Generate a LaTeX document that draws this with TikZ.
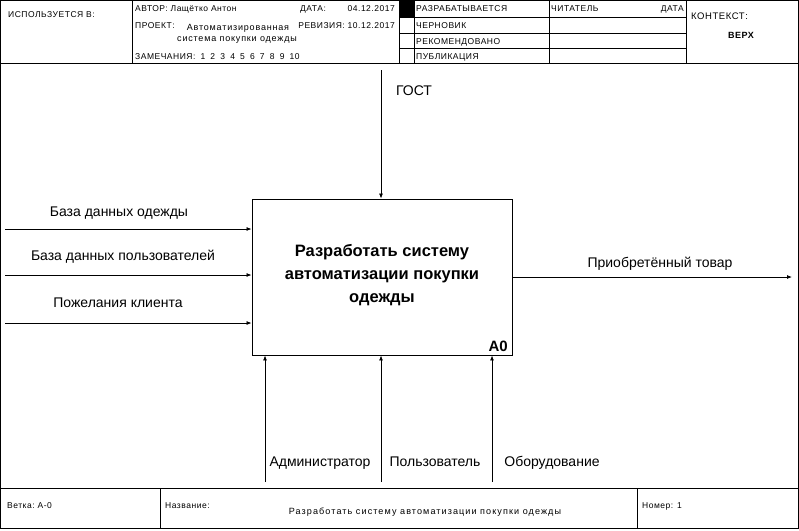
\documentclass[tikz,border=0pt]{standalone}
\usepackage{fontspec}
\setmainfont{Liberation Sans}
\newfontfamily\hdrfamily[LetterSpace=6]{Liberation Sans}
\newfontfamily\hdrlowfamily[LetterSpace=9]{Liberation Sans}
\newfontfamily\ttlfamily[LetterSpace=12]{Liberation Sans}
\usetikzlibrary{positioning,arrows.meta}
\newcommand{\hdrsize}{\hdrfamily\fontsize{8.5}{10}\selectfont}
\newcommand{\hdrlowsize}{\hdrlowfamily\fontsize{9}{10}\selectfont}
\newcommand{\lblsize}{\fontsize{14}{16}\selectfont}
\newcommand{\numgap}{\ \hspace{2.3pt}}

\begin{document}
\begin{tikzpicture}[
		x=1pt, y=-1pt,
		frame/.style={draw, line width=0.8pt},
		hdr/.style={inner sep=0pt, anchor=base west, font=\hdrsize},
		hdrr/.style={inner sep=0pt, anchor=base east, font=\hdrsize},
		hdrc/.style={inner sep=0pt, anchor=base, font=\hdrlowsize},
		lbl/.style={inner sep=0pt, anchor=base, font=\lblsize},
		funcbox/.style={draw, line width=0.9pt, minimum width=260pt, minimum height=156pt, inner sep=0pt},
		boxtext/.style={inner sep=0pt, align=center, font=\bfseries\fontsize{16.5}{23}\selectfont},
		arr/.style={-{Latex[length=5pt,width=4pt]}, line width=0.8pt},
	]

	\useasboundingbox (0,0) rectangle (799,530);

	% frame, header and footer grid
	\draw[frame] (0.5,0.5) rectangle (798.5,528.5);
	\draw[frame] (0,63) -- (799,63);
	\draw[frame] (0,488) -- (799,488);
	\draw[frame] (132,0) -- (132,63);
	\draw[frame] (399,0) -- (399,63);
	\draw[frame] (414,0) -- (414,63);
	\draw[frame] (549,0) -- (549,63);
	\draw[frame] (686,0) -- (686,63);
	\foreach \y in {17,33,48}
		\draw[frame] (399,\y) -- (686,\y);
	\fill (399,0) rectangle (414,17);
	\draw[frame] (160,488) -- (160,529);
	\draw[frame] (637,488) -- (637,529);

	% header texts
	\node[hdr] (usedin) at (8,17) {ИСПОЛЬЗУЕТСЯ В:};
	\node[hdr] (author) at (135,12) {АВТОР: Лащётко Антон};
	\node[hdr] (datelbl) at (300,12) {ДАТА:};
	\node[hdrr] (date) at (395,12) {04.12.2017};
	\node[hdr] (project) at (135,28) {ПРОЕКТ:};
	\node[hdrc] (proj1) at (238,30) {Автоматизированная};
	\node[hdrc] (proj2) at (237,41) {система покупки одежды};
	\node[hdrr] (revision) at (395,28) {РЕВИЗИЯ: 10.12.2017};
	\node[hdr] (notes) at (135,59) {ЗАМЕЧАНИЯ:\numgap 1\numgap 2\numgap 3\numgap 4\numgap 5\numgap 6\numgap 7\numgap 8\numgap 9\numgap 10};
	\node[hdr] (working) at (416,12) {РАЗРАБАТЫВАЕТСЯ};
	\node[hdr] (draft) at (416,28) {ЧЕРНОВИК};
	\node[hdr] (recommended) at (416,44) {РЕКОМЕНДОВАНО};
	\node[hdr] (publication) at (416,59) {ПУБЛИКАЦИЯ};
	\node[hdr] (reader) at (551,12) {ЧИТАТЕЛЬ};
	\node[hdrr] (readerdate) at (684,12) {ДАТА};
	\node[hdr, font=\hdrfamily\fontsize{9.5}{11}\selectfont] (context) at (691,19) {КОНТЕКСТ:};
	\node[hdrc, font=\hdrfamily\bfseries\fontsize{9}{11}\selectfont] (top) at (741,38) {ВЕРХ};

	% footer texts
	\node[hdr] (node) at (7,508) {Ветка:\ А-0};
	\node[hdr] (title) at (165,508) {Название:};
	\node[hdrc, font=\ttlfamily\fontsize{9.05}{11}\selectfont] (titletext) at (425,514) {Разработать систему автоматизации покупки одежды};
	\node[hdr] (number) at (642,508) {Номер: 1};

	% function block
	\node[funcbox] (a0) at (382,277) {};
	\node[boxtext] (a0text) at ([yshift=2pt]a0.center) {Разработать систему\\автоматизации покупки\\одежды};
	\node[inner sep=0pt, anchor=base east, font=\bfseries\fontsize{15}{17}\selectfont] (a0num) at (508,351) {A0};

	% control
	\coordinate (gost) at (381,70);
	\draw[arr] (gost) -- (gost |- a0.north);
	\node[lbl] (gostlbl) at (414,95) {ГОСТ};

	% inputs
	\coordinate (in1) at (5,229);
	\coordinate (in2) at (5,275);
	\coordinate (in3) at (5,323);
	\draw[arr] (in1) -- (in1 -| a0.west);
	\draw[arr] (in2) -- (in2 -| a0.west);
	\draw[arr] (in3) -- (in3 -| a0.west);
	\node[lbl] (in1lbl) at (119,216) {База данных одежды};
	\node[lbl] (in2lbl) at (123,260) {База данных пользователей};
	\node[lbl] (in3lbl) at (118,307) {Пожелания клиента};

	% output
	\coordinate (out1) at (792,277);
	\draw[arr] (a0.east) -- (out1);
	\node[lbl] (out1lbl) at (660,267) {Приобретённый товар};

	% mechanisms
	\coordinate (m1) at (265,482);
	\coordinate (m2) at (381,482);
	\coordinate (m3) at (492,482);
	\draw[arr] (m1) -- (m1 |- a0.south);
	\draw[arr] (m2) -- (m2 |- a0.south);
	\draw[arr] (m3) -- (m3 |- a0.south);
	\node[lbl] (m1lbl) at (320,466) {Администратор};
	\node[lbl] (m2lbl) at (435,466) {Пользователь};
	\node[lbl] (m3lbl) at (552,466) {Оборудование};

\end{tikzpicture}
\end{document}
